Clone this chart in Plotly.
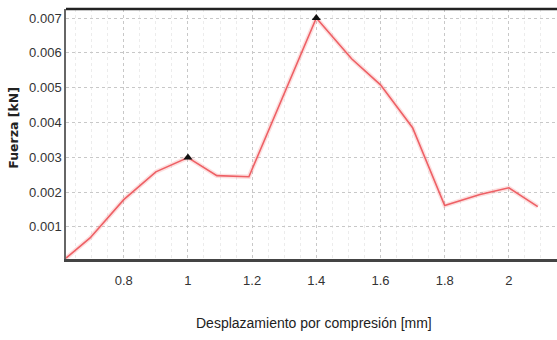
import plotly.graph_objects as go

# Force-displacement curve from a compression test
desplazamiento = [0.62, 0.695, 0.80, 0.90, 1.00, 1.09, 1.19, 1.40, 1.51, 1.60, 1.70, 1.80, 1.91, 2.00, 2.09]
fuerza = [0.0001, 0.00068, 0.00178, 0.00258, 0.00299, 0.00247, 0.00244, 0.00700, 0.00583,
          0.00508, 0.00385, 0.00161, 0.00193, 0.00212, 0.00158]
# indices of the highlighted local peaks
picos = [4, 7]

x_ticks = [0.8, 1.0, 1.2, 1.4, 1.6, 1.8, 2.0]
x_ticktext = ["0.8", "1", "1.2", "1.4", "1.6", "1.8", "2"]
y_ticks = [0.001, 0.002, 0.003, 0.004, 0.005, 0.006, 0.007]
y_ticktext = ["0.001", "0.002", "0.003", "0.004", "0.005", "0.006", "0.007"]

base_font = "Liberation Sans, Arial, sans-serif"

fig = go.Figure()
# soft halo under the curve
fig.add_trace(go.Scatter(x=desplazamiento, y=fuerza, mode="lines",
                         line=dict(color="rgba(240,110,110,0.22)", width=4.5),
                         hoverinfo="skip", showlegend=False))
fig.add_trace(go.Scatter(x=desplazamiento, y=fuerza, mode="lines",
                         line=dict(color="#ee6065", width=1.6), showlegend=False))
fig.add_trace(go.Scatter(x=[desplazamiento[i] for i in picos], y=[fuerza[i] for i in picos],
                         mode="markers",
                         marker=dict(symbol="triangle-up", size=8, color="#111111"),
                         showlegend=False))

fig.update_layout(
    width=557, height=340,
    margin=dict(l=66, r=0, t=9, b=81),
    plot_bgcolor="white", paper_bgcolor="white",
    font=dict(family=base_font, color="#333333", size=12),
    xaxis=dict(
        range=[0.62, 2.15], tickvals=x_ticks, ticktext=x_ticktext,
        showline=True, linecolor="#444444", linewidth=2.5,
        showgrid=True, gridcolor="#c8c8c8", griddash="dot", gridwidth=1,
        minor=dict(dtick=0.05, showgrid=True, gridcolor="#ececec", griddash="dot"),
        ticks="", zeroline=False, ticklabelstandoff=8,
        tickfont=dict(family=base_font, size=13, color="#333333"),
    ),
    yaxis=dict(
        range=[0.000075, 0.00726], tickvals=y_ticks, ticktext=y_ticktext,
        showline=True, linecolor="#666666", linewidth=1.5,
        showgrid=True, gridcolor="#c8c8c8", griddash="dot", gridwidth=1,
        ticks="", zeroline=False,
        tickfont=dict(family=base_font, size=13, color="#333333"),
    ),
)
# axis titles
fig.add_annotation(text="Desplazamiento por compresión [mm]", xref="paper", yref="paper",
                   x=0.505, y=-0.255, xanchor="center", yanchor="middle", showarrow=False,
                   font=dict(family=base_font, size=14, color="#222222"))
fig.add_annotation(text="<b>Fuerza [kN]</b>", xref="paper", yref="paper",
                   x=-0.106, y=0.525, xanchor="center", yanchor="middle", showarrow=False,
                   textangle=-90,
                   font=dict(family="DejaVu Sans, sans-serif", size=12.5, color="#222222"))
# dark frame line along the top of the plotting area
fig.add_shape(type="line", xref="paper", yref="paper", x0=0, x1=1, y0=1, y1=1,
              line=dict(color="#222222", width=2.5))

fig.write_html("out.html")
